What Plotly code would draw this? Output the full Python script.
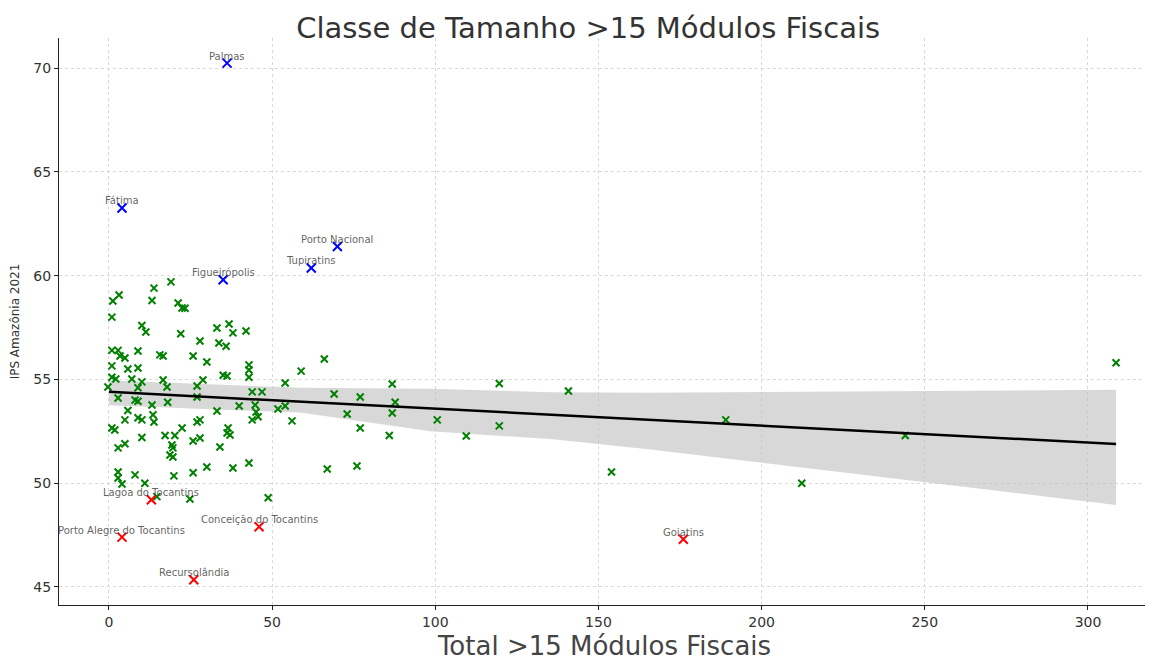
import plotly.graph_objects as go

# ---- data ----
green_x = [308.6, 189, 244, 212.3, 154, 140.8, 119.6, 119.6, 109.5, 100.6, 86.8, 87.7, 86.8, 85.9,
           77, 77, 76, 69, 73, 66.9, 66, 58.9, 54, 51.8, 54, 56.1, 48.8,
           13.8, 19, 1.2, 3.1, 13.2, 21.2, 22.4, 23.3, 0.9, 10.1, 11.3, 22, 0.9, 2.8, 3.4, 4.9, 8.9,
           15.6, 16.6, 0.9, 5.8, 8.9, 0.9, 2.1, 7, 10.1, 16.6, 17.8, -0.3,
           8.9, 2.8, 8, 8.9, 5.8, 13.2, 18, 4.9, 8.9, 10.1, 13.5, 13.8, 0.9, 1.8, 10.1, 17.2, 20.2, 22.4,
           2.8, 4.9, 19.3, 19.6, 18.7, 19.6, 2.8, 2.8, 4, 8, 11, 19.9,
           33.1, 36.8, 38, 42, 27.9, 33.7, 35.9, 25.8, 30, 42.9, 42.9, 35, 36.2, 42.9, 28.8, 27,
           27, 43.9, 46.9, 33.1, 39.9, 44.8, 45.1, 27, 27.9, 36.5, 36.2, 37.1, 25.8, 27.9, 43.9, 45.7,
           34, 30, 25.8, 38, 42.9, 14.7, 24.8]
green_y = [55.8, 53.05, 52.3, 50.0, 50.54, 54.44, 54.8, 52.76, 52.27, 53.05, 54.78, 53.9, 53.38, 52.3,
           54.15, 52.66, 50.83, 54.3, 53.33, 50.68, 55.98, 55.4, 54.83, 53.57, 53.72, 53.0, 49.3,
           59.4, 59.7, 58.78, 59.07, 58.8, 58.68, 58.44, 58.43, 58.0, 57.6, 57.28, 57.2, 56.4, 56.4, 56.13, 56.03, 56.37,
           56.18, 56.13, 55.65, 55.5, 55.55, 55.1, 55.02, 55.02, 54.88, 54.97, 54.63, 54.63,
           54.6, 54.1, 54.0, 53.95, 53.5, 53.77, 53.9, 53.05, 53.15, 53.05, 53.3, 52.95, 52.66, 52.56, 52.2, 52.3, 52.3, 52.66,
           51.7, 51.9, 51.84, 51.7, 51.36, 51.26, 50.54, 50.25, 49.96, 50.4, 50.0, 50.35,
           57.48, 57.67, 57.24, 57.33, 56.85, 56.75, 56.6, 56.13, 55.84, 55.7, 55.45, 55.2, 55.16, 55.1, 54.97, 54.68,
           54.15, 54.4, 54.4, 53.48, 53.72, 53.77, 53.43, 52.95, 53.05, 52.66, 52.42, 52.32, 52.03, 52.18, 53.05, 53.2,
           51.74, 50.78, 50.5, 50.73, 50.97, 49.35, 49.24]

top_names = ["Palmas", "Fátima", "Porto Nacional", "Tupiratins", "Figueirópolis"]
top_x = [36.2, 4, 70, 62, 35]
top_y = [70.24, 63.26, 61.4, 60.37, 59.8]

low_names = ["Lagoa do Tocantins", "Porto Alegre do Tocantins", "Conceição do Tocantins",
             "Recursolândia", "Goiatins"]
low_x = [13, 4, 46, 26, 176]
low_y = [49.2, 47.4, 47.9, 45.35, 47.3]

fit_x = [0, 58.6, 98.5, 135.3, 166, 199.7, 308.6]
fit_y = [54.4, 53.92, 53.6, 53.3, 53.05, 52.78, 51.89]
ci_upper = [54.95, 54.6, 54.55, 54.38, 54.36, 54.4, 54.5]
ci_lower = [53.75, 53.4, 52.5, 52.13, 51.62, 50.98, 48.95]

x_ticks = [0, 50, 100, 150, 200, 250, 300]
y_ticks = [45, 50, 55, 60, 65, 70]

FONT = "DejaVu Sans"
fig = go.Figure()

fig.add_trace(go.Scatter(x=fit_x + fit_x[::-1], y=ci_upper + ci_lower[::-1],
                         fill="toself", fillcolor="rgba(190,190,190,0.6)",
                         line=dict(width=0), mode="lines", hoverinfo="skip"))

fig.add_trace(go.Scatter(x=green_x, y=green_y, mode="markers",
                         marker=dict(symbol="x-thin", size=7, color="green",
                                     line=dict(width=2, color="green"))))
fig.add_trace(go.Scatter(x=top_x, y=top_y, mode="markers",
                         marker=dict(symbol="x-thin", size=9, color="blue",
                                     line=dict(width=2, color="blue"))))
fig.add_trace(go.Scatter(x=low_x, y=low_y, mode="markers",
                         marker=dict(symbol="x-thin", size=9, color="red",
                                     line=dict(width=2, color="red"))))

fig.add_trace(go.Scatter(x=fit_x, y=fit_y, mode="lines",
                         line=dict(color="black", width=2.5)))

for n, x, y in list(zip(top_names, top_x, top_y)) + list(zip(low_names, low_x, low_y)):
    fig.add_annotation(x=x, y=y, text=n, showarrow=False, yshift=7,
                       font=dict(family=FONT, size=10, color="rgba(70,70,70,0.85)"))

axis_common = dict(showline=True, linecolor="#222", linewidth=1.3, ticks="outside",
                   ticklen=4, tickcolor="#222", zeroline=False, automargin=False,
                   showgrid=True, gridcolor="#d9d9d9", griddash="dot", gridwidth=1,
                   tickfont=dict(family=FONT, size=14, color="#333"), mirror=False)

fig.update_layout(
    width=1145, height=653,
    paper_bgcolor="white", plot_bgcolor="white",
    showlegend=False,
    margin=dict(l=51, r=3, t=30, b=56),
    title=dict(text="Classe de Tamanho >15 Módulos Fiscais", x=0.485, xref="paper",
               y=0.969, yref="container", xanchor="center", yanchor="middle",
               font=dict(family=FONT, size=29, color="#333")),
    xaxis=dict(range=[-15.3, 319], tickvals=x_ticks,
               title=dict(text="Total >15 Módulos Fiscais", standoff=15,
                          font=dict(family=FONT, size=26, color="#444")),
               **axis_common),
    yaxis=dict(range=[44.13, 71.45], tickvals=y_ticks,
               title=dict(text="IPS Amazônia 2021", standoff=20,
                          font=dict(family=FONT, size=12, color="#333")),
               **axis_common),
)

fig.write_html("out.html")
